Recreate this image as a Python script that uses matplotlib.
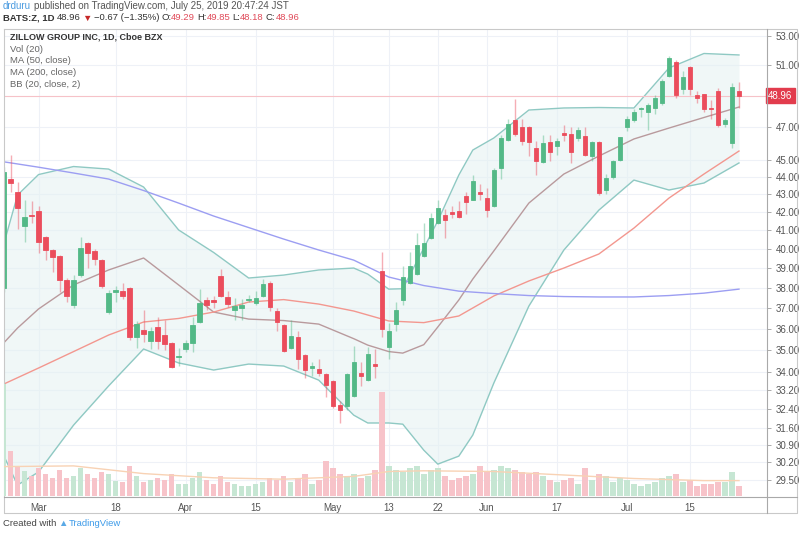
import numpy as np
import matplotlib
matplotlib.use('Agg')
import matplotlib.pyplot as plt
from matplotlib.lines import Line2D
from matplotlib.ticker import FixedLocator, FormatStrFormatter, NullLocator

# Zillow (BATS:Z) daily candles, index 0 = Mar 1 2019 (first bar Feb 22, last bar Jul 24)
first_idx = -5
opens = [38.0, 43.85, 43.15, 41.25, 41.85, 42.05, 40.65, 39.95, 39.65, 38.4,
         37.15, 38.65, 40.3, 39.9, 39.45, 36.8, 37.8, 37.85, 38.0, 35.6,
         35.95, 35.45, 36.1, 35.7, 35.35, 34.7, 35.05, 35.35, 36.35, 37.4,
         37.4, 38.6, 37.55, 36.9, 37.0, 37.4, 37.25, 37.6, 38.25, 36.85,
         36.2, 35.1, 35.6, 34.8, 34.2, 34.15, 33.9, 33.6, 32.55, 32.5,
         32.95, 33.95, 33.65, 34.37, 38.85, 35.15, 36.25, 37.4, 38.25, 38.7,
         39.65, 40.6, 41.4, 41.85, 42.0, 42.05, 42.9, 42.7, 43.1, 42.8,
         42.35, 44.5, 46.2, 47.4, 47.0, 47.0, 45.7, 44.85, 46.05, 45.8,
         46.6, 46.55, 46.3, 46.45, 45.25, 46.05, 43.25, 44.0, 45.0, 47.0,
         47.45, 48.1, 47.9, 48.2, 48.5, 50.25, 51.2, 49.4, 50.85, 49.0,
         49.05, 48.2, 49.3, 47.15, 46.0, 49.29]
highs = [44.6, 45.3, 43.7, 42.65, 42.6, 42.35, 40.7, 40.0, 39.7, 38.5,
         38.65, 40.65, 40.4, 40.0, 39.5, 37.9, 38.1, 38.25, 38.05, 36.4,
         36.9, 36.1, 36.55, 36.45, 35.4, 35.1, 35.5, 36.55, 37.95, 37.55,
         37.6, 38.95, 37.85, 37.5, 37.45, 37.65, 37.85, 38.45, 38.35, 37.0,
         36.25, 36.45, 35.9, 34.85, 34.45, 34.6, 33.95, 33.65, 32.75, 33.95,
         35.2, 34.45, 35.15, 35.05, 39.85, 36.3, 37.3, 39.1, 39.85, 40.85,
         41.4, 41.95, 42.7, 42.15, 42.35, 42.6, 43.1, 44.1, 43.6, 43.35,
         44.5, 46.5, 47.5, 48.75, 47.5, 47.05, 46.1, 46.5, 46.5, 46.3,
         47.1, 47.0, 47.0, 47.0, 46.1, 46.1, 44.15, 45.0, 46.4, 47.7,
         48.1, 48.25, 48.5, 49.0, 50.05, 51.6, 51.3, 50.6, 50.9, 49.3,
         49.1, 48.7, 49.45, 47.55, 49.8, 49.85]
lows = [37.8, 43.1, 41.05, 40.35, 41.4, 39.8, 39.45, 38.8, 37.8, 37.3,
        37.0, 38.55, 39.0, 39.15, 38.0, 36.7, 37.3, 37.45, 35.5, 35.1,
        35.4, 35.05, 35.05, 35.0, 34.2, 34.3, 34.9, 34.9, 36.3, 36.9,
        37.0, 37.55, 37.05, 36.45, 36.45, 37.3, 37.15, 37.55, 36.85, 35.9,
        34.9, 35.05, 34.15, 33.75, 33.85, 33.85, 32.9, 32.45, 31.8, 32.35,
        32.9, 33.4, 33.6, 33.75, 35.6, 34.6, 35.9, 37.15, 38.2, 38.65,
        39.6, 40.55, 41.35, 40.6, 41.65, 41.65, 41.9, 42.65, 42.7, 41.7,
        42.3, 43.9, 46.1, 46.45, 45.9, 45.25, 44.1, 44.8, 44.95, 45.3,
        46.1, 44.8, 46.1, 45.25, 44.9, 42.95, 43.0, 43.9, 44.95, 46.75,
        47.3, 47.6, 46.8, 47.8, 48.4, 50.2, 48.85, 49.1, 49.0, 48.5,
        47.95, 47.5, 47.0, 47.0, 45.7, 48.18]
closes = [44.3, 43.65, 42.2, 41.7, 41.8, 40.4, 39.95, 39.6, 38.4, 37.6,
          38.4, 40.05, 39.8, 39.5, 38.1, 37.75, 37.9, 37.6, 35.6, 36.25,
          35.75, 35.9, 35.45, 35.3, 34.25, 34.75, 35.35, 36.2, 37.25, 37.15,
          37.3, 37.6, 37.2, 37.1, 37.15, 37.45, 37.5, 38.2, 37.05, 36.35,
          34.95, 35.65, 34.6, 34.1, 34.3, 33.95, 33.45, 32.5, 32.35, 33.9,
          34.45, 33.85, 34.85, 34.3, 36.0, 35.9, 36.9, 38.55, 39.1, 40.2,
          40.3, 41.65, 42.25, 41.55, 41.9, 41.7, 42.55, 43.75, 43.0, 42.1,
          44.4, 46.3, 47.2, 46.55, 46.1, 46.05, 44.9, 46.0, 45.45, 46.15,
          46.5, 45.45, 46.8, 45.3, 46.05, 43.05, 43.95, 44.9, 46.35, 47.5,
          47.9, 48.2, 48.35, 48.85, 49.9, 51.45, 49.0, 50.2, 49.4, 48.85,
          48.1, 48.1, 47.1, 47.45, 49.5, 48.96]
volumes = [16.0, 6.4, 4.3, 3.6, 2.9, 4.0, 3.1, 2.6, 3.7, 2.6,
           2.9, 4.0, 3.1, 2.6, 3.4, 3.1, 2.1, 2.0, 4.3, 2.9,
           2.0, 2.3, 2.6, 2.3, 3.1, 1.7, 1.7, 2.6, 3.4, 2.3,
           1.7, 2.9, 2.0, 1.7, 1.4, 1.4, 1.7, 2.0, 2.6, 2.3,
           2.9, 2.0, 2.6, 3.1, 1.7, 2.3, 5.0, 4.0, 3.1, 2.9,
           3.1, 2.6, 2.9, 3.7, 14.9, 4.3, 3.7, 3.4, 4.0, 4.3,
           3.1, 3.7, 4.0, 2.9, 2.3, 2.6, 2.9, 3.1, 4.3, 3.4,
           3.7, 4.3, 4.0, 3.7, 3.4, 3.1, 3.4, 2.9, 2.3, 2.0,
           2.3, 2.6, 1.7, 4.0, 2.3, 3.1, 2.9, 2.0, 2.6, 2.3,
           1.7, 1.4, 1.7, 2.0, 2.6, 2.9, 3.1, 2.0, 2.3, 1.4,
           1.7, 1.7, 2.0, 2.0, 3.4, 1.4]

# moving averages every 5 bars
line_idx = list(range(-5, 101, 5))
ma200 = [44.88, 44.56, 44.22, 43.87, 43.21, 42.50, 41.78, 41.15, 40.53, 39.95, 39.42,
         38.55, 38.12, 37.84, 37.72, 37.62, 37.57, 37.55, 37.55, 37.62, 37.74, 37.94]
ma50 = [33.47, 34.19, 34.94, 35.71, 36.33, 36.50, 36.81, 37.30, 37.42, 37.20, 36.86,
        36.38, 36.30, 36.62, 37.60, 38.35, 39.01, 39.74, 41.12, 42.78, 44.16, 45.52]

# bollinger band (20, 2), denser where it bends
band_idx = [-5, -3, 0, 5, 10, 15, 20, 25, 30, 35, 40, 45, 47, 50, 52, 55, 57, 60, 62,
            65, 70, 75, 80, 85, 90, 95, 100]
bb_up = [40.21, 42.95, 44.13, 44.60, 44.45, 43.41, 41.02, 39.82, 38.50, 38.65, 38.91,
         39.01, 38.70, 37.94, 37.96, 40.05, 41.51, 44.10, 45.58, 46.31, 48.05, 48.18,
         48.21, 48.18, 50.79, 51.77, 51.67]
bb_mid = [35.33, 36.04, 36.96, 38.15, 38.91, 39.53, 38.15, 36.81, 36.47, 36.40, 36.23,
          35.54, 35.24, 34.94, 34.87, 35.26, 36.09, 37.40, 38.45, 39.90, 42.50, 44.16,
          45.22, 46.25, 46.92, 47.58, 48.24]
bb_low = [30.48, 29.30, 29.81, 31.71, 33.39, 35.06, 34.42, 34.10, 34.37, 34.28, 33.65,
          32.13, 31.80, 31.80, 31.75, 30.68, 30.12, 30.44, 31.30, 33.52, 37.10, 39.95,
          42.11, 43.81, 43.24, 43.64, 44.81]
vol_ma_idx = [-5, 5, 15, 25, 35, 45, 50, 55, 65, 75, 85, 95, 100]
vol_ma = [4.2, 4.3, 3.2, 2.6, 2.4, 2.8, 3.5, 3.6, 3.5, 3.0, 2.5, 2.2, 2.2]

price_ticks = [29.5, 30.2, 30.9, 31.6, 32.4, 33.2, 34, 35, 36, 37, 38, 39, 40,
               41, 42, 43, 44, 45, 47, 51, 53]
date_idx = [0, 11, 21, 31, 42, 50, 57, 64, 74, 84, 93]
date_labels = ['Mar', '18', 'Apr', '15', 'May', '13', '22', 'Jun', '17', 'Jul', '15']
last_price = 48.96

UP = '#53b987'
DOWN = '#eb4d5c'
W, H = 800, 535


def fx(px):
    return px / W


def fy(py):
    return 1 - py / H


fig = plt.figure(figsize=(8, 5.35), dpi=100)
pos = [fx(4), fy(496), fx(767) - fx(4), fy(29) - fy(496)]

ax = fig.add_axes(pos)
ax.set_yscale('log')
ax.set_xlim(-4.93, 104.0)
ax.set_ylim(28.88, 53.47)

# volume pane overlayed at the bottom
vax = fig.add_axes(pos, sharex=ax)
vax.patch.set_visible(False)
vax.set_ylim(0, 66.7)
vax.axis('off')
ax.set_zorder(1)
vax.set_zorder(2)

x = np.arange(first_idx, first_idx + len(opens))
o = np.array(opens)
h = np.array(highs)
l = np.array(lows)
c = np.array(closes)
up = c >= o

# grid
for p in price_ticks:
    ax.axhline(p, color='#eef1f7', lw=0.8, zorder=0)
for i in date_idx:
    ax.axvline(i, color='#eef1f7', lw=0.8, zorder=0)

# bollinger band and moving averages
ax.fill_between(band_idx, bb_low, bb_up, color='#e4f1f2', alpha=0.55, lw=0, zorder=1)
ax.plot(band_idx, bb_up, color='#8fc9c3', lw=1, zorder=2)
ax.plot(band_idx, bb_low, color='#8fc9c3', lw=1, zorder=2)
ax.plot(band_idx, bb_mid, color='#b99a9d', lw=1, zorder=2)
ax.plot(line_idx, ma50, color='#f3978f', lw=1, zorder=2)
ax.plot(line_idx, ma200, color='#9c9ef2', lw=1, zorder=2)

ax.axhline(last_price, color='#f6c2c8', lw=0.8, zorder=2)

# candles
cols = np.where(up, UP, DOWN)
ax.vlines(x, l, h, colors=cols, lw=1, alpha=0.45, zorder=3)
bottom = np.minimum(o, c)
height = np.maximum(np.abs(c - o), 0.03)
ax.bar(x, height, bottom=bottom, width=0.62, color=cols, edgecolor=cols, lw=0.6, zorder=4)

# volume
vcols = np.where(up, '#c6e6d3', '#f7c3c9')
vax.bar(x, volumes, width=0.8, color=vcols, zorder=1)
vax.plot(vol_ma_idx, vol_ma, color='#f8d2b4', lw=1, zorder=2)

# axes styling
for s in ax.spines.values():
    s.set_visible(False)
ax.yaxis.tick_right()
ax.yaxis.set_major_locator(FixedLocator(price_ticks))
ax.yaxis.set_major_formatter(FormatStrFormatter('%.2f'))
ax.yaxis.set_minor_locator(NullLocator())
ax.tick_params(axis='y', length=3, width=0.6, color='#9e9e9e', labelsize=7,
               labelcolor='#555555', pad=3)
ax.set_xticks(date_idx)
ax.set_xticklabels(date_labels)
ax.tick_params(axis='x', length=0, labelsize=7, labelcolor='#555555', pad=5)
for t in ax.get_xticklabels() + ax.get_yticklabels():
    t.set_family('Liberation Sans')

ax.text(1.0013, last_price, '%.2f' % last_price, transform=ax.get_yaxis_transform(),
        ha='left', va='center', fontsize=7, color='white', family='Liberation Sans',
        bbox=dict(boxstyle='square,pad=0.25', fc='#e23c4d', ec='#e23c4d'), zorder=10)

# frame lines
frame = '#a9a9a9'
fig.add_artist(Line2D([fx(4), fx(797), fx(797), fx(4), fx(4)],
                      [fy(29), fy(29), fy(513), fy(513), fy(29)], color='#c9c9c9', lw=0.8))
fig.add_artist(Line2D([fx(767), fx(767)], [fy(29), fy(513)], color=frame, lw=0.8))
fig.add_artist(Line2D([fx(4), fx(797)], [fy(497), fy(497)], color=frame, lw=0.8))

renderer = fig.canvas.get_renderer()


def put_segments(x_px, y_px, segments, size):
    xp = x_px
    for text, color, weight, gap in segments:
        t = fig.text(fx(xp), fy(y_px), text, color=color, fontsize=size, fontweight=weight,
                     family=['Liberation Sans', 'DejaVu Sans'], ha='left', va='center')
        xp += t.get_window_extent(renderer).width + gap


dark = '#333333'
red = '#e04a59'
put_segments(3, 6, [('drduru', '#4a9be0', 'normal', 3),
                    ('published on TradingView.com, July 25, 2019 20:47:24 JST', '#555555', 'normal', 0)], 7)
put_segments(3, 18, [('BATS:Z, 1D', dark, 'bold', 2), ('48.96', dark, 'normal', 2),
                     ('\u25bc', '#c62828', 'normal', 2), ('\u22120.67 (\u22121.35%)', dark, 'normal', 2),
                     ('O:', dark, 'normal', 0), ('49.29', red, 'normal', 2),
                     ('H:', dark, 'normal', 0), ('49.85', red, 'normal', 2),
                     ('L:', dark, 'normal', 0), ('48.18', red, 'normal', 2),
                     ('C:', dark, 'normal', 0), ('48.96', red, 'normal', 0)], 6.8)

legend_lines = ['Vol (20)', 'MA (50, close)', 'MA (200, close)', 'BB (20, close, 2)']
fig.text(fx(10), fy(37), 'ZILLOW GROUP INC, 1D, Cboe BZX', fontsize=6.5, fontweight='bold',
         color=dark, family='Liberation Sans', va='center')
for k, s in enumerate(legend_lines):
    fig.text(fx(10), fy(49 + k * 11.7), s, fontsize=6.8, color='#666666',
             family='Liberation Sans', va='center')

put_segments(3, 523, [('Created with', '#444444', 'normal', 2),
                      ('\u25b2', '#5aa9e6', 'normal', 1),
                      ('TradingView', '#3d9be9', 'normal', 0)], 6.8)

fig.savefig('out.png', dpi=100, facecolor='white')
